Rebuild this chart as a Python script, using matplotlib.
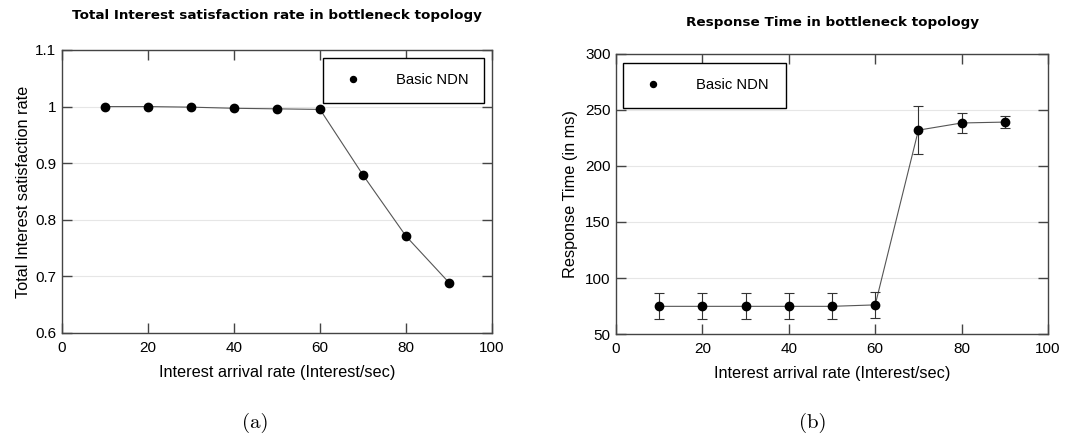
import numpy as np
from matplotlib import pyplot as plt
from matplotlib import rcParams

rcParams["font.family"] = "Liberation Sans"

# data
rate = [10, 20, 30, 40, 50, 60, 70, 80, 90]
satisfaction = [1.0, 1.0, 0.999, 0.997, 0.996, 0.995, 0.879, 0.771, 0.689]
resp_time = [74.7, 74.7, 74.7, 74.7, 74.7, 76.0, 232.0, 238.4, 239.2]
resp_err = [11.6, 11.6, 11.6, 11.6, 11.6, 11.6, 21.3, 9.0, 5.4]

xticks = [0, 20, 40, 60, 80, 100]
sat_ticks = [0.6, 0.7, 0.8, 0.9, 1.0, 1.1]
sat_labels = ["0.6", "0.7", "0.8", "0.9", "1", "1.1"]
rt_ticks = [50, 100, 150, 200, 250, 300]

spine_col = "#444444"

fig = plt.figure(figsize=(10.71, 4.4), dpi=100)
ax1 = fig.add_axes([0.0579, 0.2432, 0.4015, 0.6432])
ax2 = fig.add_axes([0.5752, 0.2409, 0.4033, 0.6364])


def style(ax):
    ax.set_xlim(0, 100)
    ax.set_xticks(xticks)
    ax.tick_params(direction="in", length=7, width=1, top=True, right=True,
                   color=spine_col, labelsize=11, pad=4)
    ax.tick_params(axis="x", pad=6)
    ax.grid(axis="y", color="#e6e6e6", linewidth=0.8)
    ax.set_axisbelow(True)
    for s in ax.spines.values():
        s.set_color(spine_col)
        s.set_linewidth(1)
    ax.set_xlabel("Interest arrival rate (Interest/sec)", fontsize=11.7, labelpad=7)


# (a) satisfaction rate
ax1.plot(rate, satisfaction, color="#555555", linewidth=0.8, zorder=2)
ax1.plot(rate, satisfaction, "o", color="black", markersize=6, zorder=3,
         label="Basic NDN")
style(ax1)
ax1.set_ylim(0.6, 1.1)
ax1.set_yticks(sat_ticks)
ax1.set_yticklabels(sat_labels)
ax1.set_ylabel("Total Interest satisfaction rate", fontsize=11.7, labelpad=3)
ax1.set_title("Total Interest satisfaction rate in bottleneck topology",
              family="DejaVu Sans", fontweight="bold", fontsize=9.7, pad=22)
leg = ax1.legend(loc="upper left", bbox_to_anchor=(0.607, 0.972, 0.374, 0.0),
                 mode="expand", markerscale=0.72, fontsize=10.6, fancybox=False,
                 edgecolor="black", framealpha=1, borderpad=1.05,
                 handletextpad=1.9, borderaxespad=0)
leg.get_frame().set_linewidth(1)

# (b) response time
ax2.plot(rate, resp_time, color="#555555", linewidth=0.8, zorder=2)
ax2.errorbar(rate, resp_time, yerr=resp_err, fmt="o", color="black",
             markersize=6, ecolor="#333333", elinewidth=0.8, capsize=3.5,
             capthick=0.8, zorder=3, label="Basic NDN")
style(ax2)
ax2.set_ylim(50, 300)
ax2.set_yticks(rt_ticks)
ax2.set_ylabel("Response Time (in ms)", fontsize=11.7, labelpad=5)
ax2.set_title("Response Time in bottleneck topology",
              family="DejaVu Sans", fontweight="bold", fontsize=9.7, pad=20)
h, l = ax2.get_legend_handles_labels()
leg2 = ax2.legend([h[0][0]], l, loc="upper left",
                  bbox_to_anchor=(0.016, 0.968, 0.378, 0.0), mode="expand",
                  markerscale=0.72, fontsize=10.6, fancybox=False,
                  edgecolor="black", framealpha=1, borderpad=1.05,
                  handletextpad=1.9, borderaxespad=0)
leg2.get_frame().set_linewidth(1)

# sub-figure captions
fig.text(0.2381, 0.0386, "(a)", family="cmr10", fontsize=15, ha="center", va="center")
fig.text(0.7591, 0.0386, "(b)", family="cmr10", fontsize=15, ha="center", va="center")

fig.savefig("out.png", dpi=100)
